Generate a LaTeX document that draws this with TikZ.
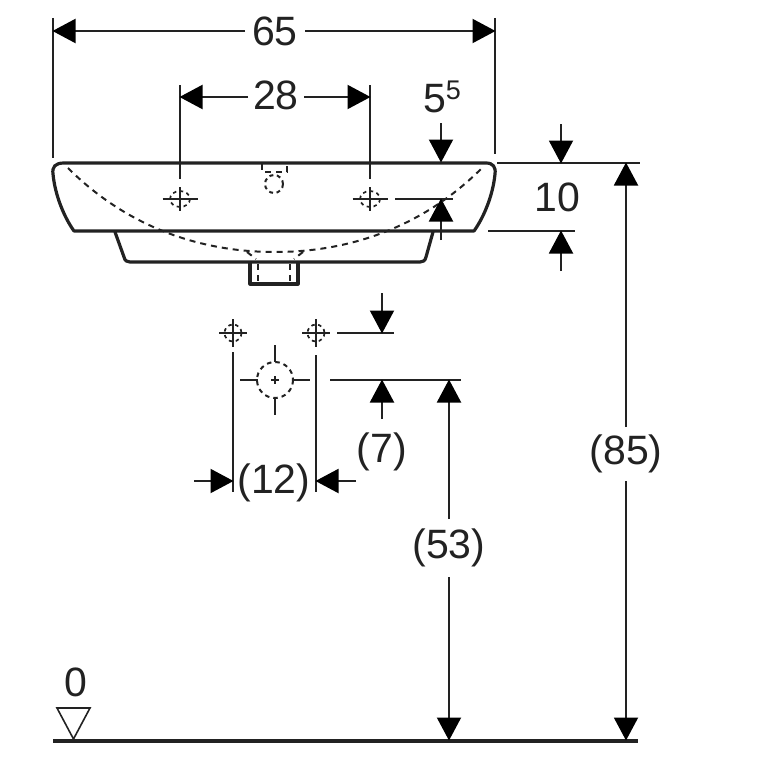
\documentclass[tikz,border=0pt]{standalone}
\usepackage{fontspec}
\setmainfont{Liberation Sans}
\usetikzlibrary{arrows.meta,calc}
\definecolor{ink}{HTML}{222222}
\tikzset{
  dimline/.style={draw=ink,line width=2pt},
  dimarrow/.style={dimline,-{Triangle[length=23pt,width=24pt,color=black]},shorten >=-0.5pt},
  outline/.style={draw=ink,line width=3.2pt,line join=round,line cap=round},
  hidden/.style={draw=ink,line width=2pt,dash pattern=on 6pt off 5pt},
  dimtext/.style={font=\fontsize{41}{41}\selectfont,text=ink,inner sep=0pt,outer sep=0pt},
}
\newcommand{\holemark}[1]{%
  \coordinate (#1w) at ($(#1)+(-17.5,0)$);
  \coordinate (#1e) at ($(#1)+(17.5,0)$);
  \coordinate (#1n) at ($(#1)+(0,-12)$);
  \coordinate (#1s) at ($(#1)+(0,12)$);
  \draw[dimline] (#1w) -- (#1e) (#1n) -- (#1s);
  \draw[hidden,dash pattern=on 3.5pt off 3.5pt,line width=1.7pt] (#1) ellipse [x radius=10,y radius=8];
}
\newcommand{\rearmark}[1]{%
  \coordinate (#1w) at ($(#1)+(-14,0)$);
  \coordinate (#1e) at ($(#1)+(14,0)$);
  \coordinate (#1n) at ($(#1)+(0,-14)$);
  \coordinate (#1s) at ($(#1)+(0,14)$);
  \draw[dimline] (#1w) -- (#1e) (#1n) -- (#1s);
  \draw[hidden,dash pattern=on 3.5pt off 3.5pt,line width=1.7pt] (#1) circle [radius=8.5];
}
\begin{document}
\begin{tikzpicture}[x=1pt,y=-1pt]
\useasboundingbox (0,0) rectangle (760,760);
% basin
\draw[outline] (64,163) -- (486,163)
  .. controls (493,163) and (496,167) .. (495,174)
  .. controls (493,195) and (484,217) .. (474,231)
  -- (74,231)
  .. controls (64,217) and (55,195) .. (53,174)
  .. controls (52,167) and (55,163) .. (64,163) -- cycle;
\draw[outline] (115,232) -- (124,257) .. controls (125,261) and (127,262) .. (130,262)
  -- (420,262) .. controls (423,262) and (425,261) .. (426,257) -- (433,232);
\draw[outline] (250,263) -- (250,284) -- (298,284) -- (298,263);
\draw[hidden] (68,168) .. controls (120,220) and (190,252) .. (275,252)
  .. controls (360,252) and (430,220) .. (482,168);
\draw[hidden] (247,252) -- (256,259);
\draw[hidden] (303,252) -- (294,259);
\draw[hidden] (258,264) -- (258,284);
\draw[hidden] (290,264) -- (290,284);
\draw[hidden] (262,164) -- (262,172) -- (287,172) -- (287,164);
\draw[hidden,dash pattern=on 4pt off 3.5pt] (274,184) circle [radius=9];
% holes
\coordinate (hl) at (180,199);
\coordinate (hr) at (370,199);
\coordinate (rl) at (233,333);
\coordinate (rr) at (316,333);
\coordinate (dr) at (275,380);
\holemark{hl}
\holemark{hr}
\rearmark{rl}
\rearmark{rr}
\draw[hidden,dash pattern=on 4.5pt off 4pt] (dr) circle [radius=18];
\draw[dimline] (240,380) -- (258,380) (292,380) -- (310,380) (275,345) -- (275,362) (275,398) -- (275,415);
\draw[dimline] (271,380) -- (279,380) (275,376) -- (275,384);
% extension lines
\coordinate (e65l) at (53,18);   \coordinate (e65lb) at (53,158);
\coordinate (e65r) at (495,18);  \coordinate (e65rb) at (495,154);
\coordinate (e28l) at (180,85);  \coordinate (e28lb) at (180,179);
\coordinate (e28r) at (370,85);  \coordinate (e28rb) at (370,179);
\draw[dimline] (e65l) -- (e65lb);
\draw[dimline] (e65r) -- (e65rb);
\draw[dimline] (e28l) -- (e28lb);
\draw[dimline] (e28r) -- (e28rb);
\coordinate (ref55a) at (395,199); \coordinate (ref55b) at (453,199);
\draw[dimline] (ref55a) -- (ref55b);
\coordinate (top1) at (497,163);  \coordinate (top2) at (640,163);
\draw[dimline] (top1) -- (top2);
\coordinate (rim1) at (488,231);  \coordinate (rim2) at (575,231);
\draw[dimline] (rim1) -- (rim2);
\coordinate (r7a) at (337,333);   \coordinate (r7b) at (394,333);
\draw[dimline] (r7a) -- (r7b);
\coordinate (d7a) at (330,380);   \coordinate (d7b) at (461,380);
\draw[dimline] (d7a) -- (d7b);
\coordinate (e12l) at (233,352);  \coordinate (e12lb) at (233,492);
\coordinate (e12r) at (316,355);  \coordinate (e12rb) at (316,492);
\draw[dimline] (e12l) -- (e12lb);
\draw[dimline] (e12r) -- (e12rb);
% floor
\coordinate (fl) at (53,741); \coordinate (fr) at (638,741);
\draw[draw=ink,line width=3.2pt] (fl) -- (fr);
\draw[draw=ink,line width=1.6pt,line join=miter] (57,708) -- (90,708) -- (73.5,739) -- cycle;
% labels
\node[dimtext,minimum width=60pt] (t65) at (275,31) {65};
\node[dimtext,minimum width=56pt] (t28) at (276,95) {28};
\node[dimtext] (t55) at (442,97) {5\raisebox{13pt}{\fontsize{27}{27}\selectfont 5}};
\node[dimtext] (t10) at (557,197) {10};
\node[dimtext,minimum height=54pt] (t85) at (626,454) {(85)};
\node[dimtext,minimum height=58pt] (t53) at (449,548) {(53)};
\node[dimtext] (t7) at (382,452) {(7)};
\node[dimtext] (t12) at (274,483) {(12)};
\node[dimtext] (t0) at (76,682) {0};
% dimension arrows
\coordinate (a65l) at (53,31);  \coordinate (a65r) at (495,31);
\draw[dimarrow] (t65) -- (a65l);
\draw[dimarrow] (t65) -- (a65r);
\coordinate (a28l) at (180,97);  \coordinate (a28r) at (370,97);
\draw[dimarrow] (t28.west|-a28l) -- (a28l);
\draw[dimarrow] (t28.east|-a28r) -- (a28r);
\coordinate (s1) at (441,123); \coordinate (s2) at (441,162);
\coordinate (s3) at (441,240); \coordinate (s4) at (441,199);
\draw[dimarrow] (s1) -- (s2);
\draw[dimarrow] (s3) -- (s4);
\coordinate (u1) at (561,124); \coordinate (u2) at (561,163);
\coordinate (u3) at (561,271); \coordinate (u4) at (561,231);
\draw[dimarrow] (u1) -- (u2);
\draw[dimarrow] (u3) -- (u4);
\coordinate (a85t) at (626,163); \coordinate (a85b) at (626,740);
\draw[dimarrow] (t85) -- (a85t);
\draw[dimarrow] (t85) -- (a85b);
\coordinate (a53t) at (449,380); \coordinate (a53b) at (449,740);
\draw[dimarrow] (t53) -- (a53t);
\draw[dimarrow] (t53) -- (a53b);
\coordinate (v1) at (382,293); \coordinate (v2) at (382,333);
\coordinate (v3) at (382,419); \coordinate (v4) at (382,380);
\draw[dimarrow] (v1) -- (v2);
\draw[dimarrow] (v3) -- (v4);
\coordinate (h1) at (194,481); \coordinate (h2) at (233,481);
\coordinate (h3) at (356,481); \coordinate (h4) at (316,481);
\draw[dimarrow] (h1) -- (h2);
\draw[dimarrow] (h3) -- (h4);
\end{tikzpicture}
\end{document}
